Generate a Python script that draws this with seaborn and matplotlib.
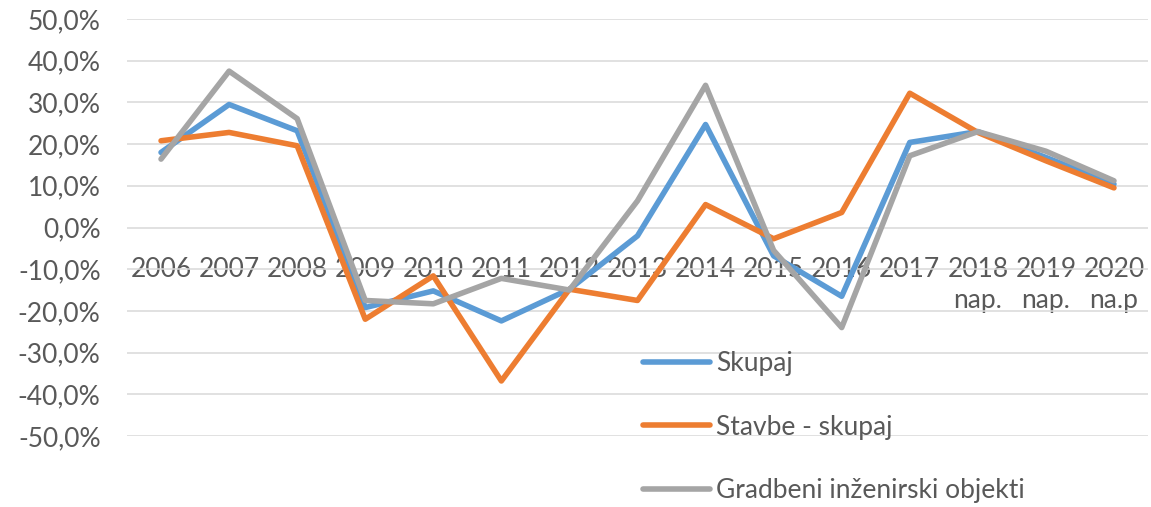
import matplotlib
matplotlib.use("Agg")
import matplotlib.pyplot as plt
import matplotlib.ticker as mticker
import seaborn as sns
import pandas as pd

years = ["2006", "2007", "2008", "2009", "2010", "2011", "2012", "2013",
         "2014", "2015", "2016", "2017", "2018\nnap.", "2019\nnap.", "2020\nna.p"]

skupaj = [18.0, 29.5, 23.2, -19.2, -15.2, -22.4, -14.8, -2.0,
          24.7, -6.8, -16.5, 20.4, 23.0, 16.8, 10.4]
stavbe = [20.8, 22.8, 19.6, -22.0, -11.6, -36.8, -14.8, -17.5,
          5.5, -2.7, 3.6, 32.2, 22.8, 16.0, 9.5]
gradbeni = [16.4, 37.5, 26.1, -17.5, -18.3, -12.2, -15.0, 6.4,
            34.1, -5.5, -24.0, 17.2, 23.0, 18.3, 11.2]

series_names = ["Skupaj", "Stavbe - skupaj", "Gradbeni inženirski objekti"]
colors = ["#5B9BD5", "#ED7D31", "#A5A5A5"]

df = pd.concat([
    pd.DataFrame({"leto": years, "vrednost": vals, "serija": name})
    for name, vals in zip(series_names, [skupaj, stavbe, gradbeni])
], ignore_index=True)

sns.set_theme(style="white")
plt.rcParams["font.family"] = ["Lato", "DejaVu Sans"]

text_color = "#595959"
fs = 19
lw = 4.0

fig = plt.figure(figsize=(11.51, 5.07), dpi=100)
ax = fig.add_axes([127 / 1151, 1 - 436 / 507, (1148 - 127) / 1151, (436 - 19) / 507])

sns.lineplot(data=df, x="leto", y="vrednost", hue="serija", hue_order=series_names,
             palette=colors, linewidth=lw, sort=False, ax=ax, legend=True)

ax.set_xlim(-0.5, len(years) - 0.5)
ax.set_ylim(-50, 50)
ax.yaxis.set_major_locator(mticker.MultipleLocator(10))
ax.yaxis.set_major_formatter(mticker.FuncFormatter(lambda v, p: f"{v:.1f}%".replace(".", ",")))
ax.grid(axis="y", color="#D9D9D9", linewidth=1.1)
ax.grid(axis="x", visible=False)
ax.set_axisbelow(True)

for s in ["top", "right", "left"]:
    ax.spines[s].set_visible(False)
ax.spines["bottom"].set_position(("data", 0))
ax.spines["bottom"].set_visible(False)

ax.set_xticks(range(len(years)))
ax.set_xticklabels(years, linespacing=1.3)
ax.tick_params(axis="x", length=0, pad=21, labelsize=fs, labelcolor=text_color)
ax.tick_params(axis="y", length=0, pad=19, labelsize=fs, labelcolor=text_color)
ax.set_xlabel("")
ax.set_ylabel("")

fs_px = fs * 100 / 72
leg = ax.legend(loc="center left", bbox_to_anchor=(643 / 1151, 1 - 427 / 507),
                bbox_transform=fig.transFigure, frameon=False, fontsize=fs,
                handlelength=67 / fs_px, handletextpad=6 / fs_px,
                labelspacing=(65 - fs_px) / fs_px, borderpad=0, borderaxespad=0)
for t in leg.get_texts():
    t.set_color(text_color)
for l in leg.get_lines():
    l.set_linewidth(lw)
    l.set_solid_capstyle("round")

fig.savefig("out.png", dpi=100)
